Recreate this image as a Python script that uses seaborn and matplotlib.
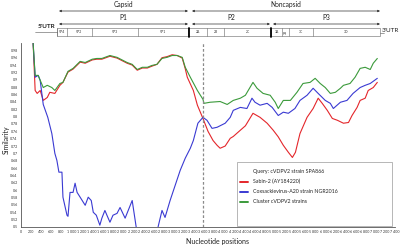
import numpy as np
import pandas as pd
import matplotlib
matplotlib.use("Agg")
import matplotlib.pyplot as plt
import seaborn as sns
from matplotlib.patches import Rectangle
from matplotlib.lines import Line2D
from matplotlib.ticker import FuncFormatter

sns.set_style("white")
plt.rcParams['font.family'] = ['Lato', 'DejaVu Sans']

# @@ similarity values (nucleotide position, similarity)
sabin_pos = [240, 280, 320, 380, 440, 520, 570, 670, 770, 830,
             930, 1030, 1170, 1270, 1410, 1500, 1600, 1760, 1900, 2100,
             2200, 2300, 2400, 2500, 2590, 2690, 2790, 2890, 2990, 3090,
             3190, 3250, 3290, 3410, 3490, 3600, 3700, 3800, 3880, 3940,
             4040, 4140, 4200, 4340, 4440, 4590, 4730, 4870, 4990, 5090,
             5190, 5290, 5370, 5430, 5520, 5660, 5780, 5880, 5960, 6060,
             6160, 6260, 6380, 6480, 6550, 6650, 6710, 6810, 6870, 6970,
             7050]
sabin_sim = [0.999, 0.871, 0.863, 0.871, 0.844, 0.852, 0.866, 0.863, 0.885, 0.893,
             0.921, 0.929, 0.948, 0.945, 0.954, 0.956, 0.956, 0.964, 0.959, 0.945,
             0.940, 0.926, 0.932, 0.932, 0.937, 0.942, 0.960, 0.963, 0.968, 0.966,
             0.959, 0.930, 0.907, 0.871, 0.831, 0.795, 0.760, 0.735, 0.722, 0.714,
             0.720, 0.741, 0.746, 0.763, 0.775, 0.809, 0.798, 0.782, 0.763, 0.745,
             0.722, 0.703, 0.689, 0.703, 0.754, 0.798, 0.822, 0.850, 0.836, 0.817,
             0.795, 0.790, 0.782, 0.784, 0.803, 0.825, 0.844, 0.850, 0.871, 0.879,
             0.893]

cox_pos = [240, 280, 340, 380, 440, 530, 610, 670, 710, 750,
           810, 830, 910, 930, 970, 1030, 1070, 1110, 1170, 1270,
           1330, 1390, 1430, 1490, 1560, 1600, 1660, 1700, 1760, 1820,
           1900, 1960, 2060, 2200, 2280, 2400, 2550, 2710, 2790, 2850,
           2950, 3050, 3150, 3250, 3350, 3410, 3500, 3600, 3680, 3780,
           3880, 4040, 4140, 4200, 4340, 4470, 4570, 4630, 4730, 4870,
           4970, 5090, 5190, 5290, 5420, 5520, 5660, 5780, 5880, 6020,
           6120, 6180, 6320, 6450, 6570, 6710, 6810, 6910, 7050]
cox_sim = [0.999, 0.907, 0.912, 0.898, 0.833, 0.798, 0.754, 0.700, 0.681, 0.649,
           0.649, 0.581, 0.532, 0.529, 0.594, 0.594, 0.619, 0.594, 0.581, 0.559,
           0.581, 0.572, 0.540, 0.532, 0.505, 0.524, 0.545, 0.532, 0.513, 0.532,
           0.537, 0.553, 0.524, 0.572, 0.499, 0.480, 0.470, 0.499, 0.545, 0.526,
           0.572, 0.613, 0.654, 0.687, 0.714, 0.735, 0.782, 0.798, 0.790, 0.768,
           0.771, 0.782, 0.798, 0.817, 0.825, 0.822, 0.850, 0.839, 0.831, 0.836,
           0.825, 0.803, 0.812, 0.809, 0.822, 0.844, 0.858, 0.877, 0.863, 0.844,
           0.836, 0.822, 0.839, 0.844, 0.863, 0.879, 0.885, 0.890, 0.904]

cluster_pos = [240, 280, 340, 440, 520, 610, 670, 770, 830, 930,
               1030, 1170, 1270, 1410, 1500, 1600, 1760, 1900, 2100, 2200,
               2300, 2400, 2500, 2590, 2690, 2790, 2890, 2990, 3090, 3190,
               3250, 3350, 3490, 3600, 3620, 3740, 3940, 4080, 4200, 4340,
               4440, 4530, 4590, 4670, 4790, 4930, 5030, 5090, 5190, 5330,
               5460, 5580, 5720, 5820, 5920, 6020, 6120, 6220, 6320, 6380,
               6510, 6610, 6710, 6810, 6910, 6970, 7050]
cluster_sim = [0.999, 0.912, 0.912, 0.879, 0.885, 0.879, 0.871, 0.890, 0.893, 0.923,
               0.931, 0.950, 0.947, 0.956, 0.958, 0.958, 0.966, 0.961, 0.947, 0.942,
               0.928, 0.934, 0.934, 0.939, 0.942, 0.958, 0.961, 0.966, 0.966, 0.961,
               0.934, 0.907, 0.871, 0.847, 0.836, 0.839, 0.841, 0.833, 0.844, 0.850,
               0.858, 0.879, 0.893, 0.877, 0.863, 0.858, 0.839, 0.822, 0.844, 0.844,
               0.866, 0.890, 0.893, 0.904, 0.890, 0.879, 0.863, 0.866, 0.877, 0.885,
               0.890, 0.907, 0.931, 0.934, 0.928, 0.945, 0.958]

series_names = ["Sabin-2 (AY184220)", "Coxsackievirus-A20 strain NGR2016", "Cluster cVDPV2 strains"]
series_colors = ["#e4262b", "#3a3ad2", "#3b9a3b"]
query_label = "Query: cVDPV2 strain SPA866"
breakpoint_nt = 3600
# @@

frames = []
for name, pos, sim in zip(series_names, [sabin_pos, cox_pos, cluster_pos],
                          [sabin_sim, cox_sim, cluster_sim]):
    frames.append(pd.DataFrame({"position": pos, "similarity": sim, "strain": name}))
df = pd.concat(frames, ignore_index=True)

W, H = 400, 248
fig = plt.figure(figsize=(W / 100, H / 100), dpi=100)
fig.patch.set_facecolor("white")

# main plot
ax = fig.add_axes([21 / W, 1 - 227 / H, 374 / W, 184 / H])
sns.lineplot(data=df, x="position", y="similarity", hue="strain", hue_order=series_names,
             palette=series_colors, estimator=None, linewidth=0.8, legend=False, ax=ax)
ax.axvline(breakpoint_nt, color="#8a8a8a", ls=(0, (2.2, 1.6)), lw=0.9)

ax.set_xlim(0, 7400)
ax.set_ylim(0.5, 1.0)
ax.set_xticks(np.arange(0, 7401, 200))
ax.set_yticks(np.arange(0.5, 0.981, 0.02))
ax.xaxis.set_major_formatter(FuncFormatter(lambda v, p: f"{int(round(v)):,}".replace(",", " ")))
ax.yaxis.set_major_formatter(FuncFormatter(lambda v, p: f"{v:.2f}".rstrip("0").rstrip(".")))
ax.tick_params(axis="both", labelsize=2.6, length=1.2, width=0.4, pad=1.2, color="#555555",
               labelcolor="#333333")
for s in ["top", "right"]:
    ax.spines[s].set_visible(False)
for s in ["left", "bottom"]:
    ax.spines[s].set_color("#555555")
    ax.spines[s].set_linewidth(0.6)

ax.set_xlabel("Nucleotide positions", fontsize=5, color="#222222")
ax.set_ylabel("Similarity", fontsize=5, color="#222222")
ax.xaxis.set_label_coords((217 - 21) / 374, -0.058)
ax.yaxis.set_label_coords(-0.03, (227 - 140) / 184)

# legend
handles = [Line2D([], [], color="none")] + [Line2D([], [], color=c, lw=1.4) for c in series_colors]
labels = [query_label] + series_names
leg = ax.legend(handles, labels, loc="upper left", bbox_to_anchor=((240 - 21) / 374, (227 - 169) / 184),
                fontsize=3.8, frameon=False, handlelength=1.6, handletextpad=0.8,
                labelspacing=0.95, borderpad=0, borderaxespad=0)
ax.add_patch(Rectangle(((237 - 21) / 374, 0.005), (392 - 237) / 374, (226 - 162) / 184,
                       transform=ax.transAxes, fill=False, ec="#9a9a9a", lw=0.5, clip_on=False))

# genome map header
hdr = fig.add_axes([0, 1 - 48 / H, 1, 48 / H])
hdr.set_xlim(0, W)
hdr.set_ylim(48, 0)
hdr.axis("off")

arrow = dict(arrowstyle="<|-|>", lw=0.5, color="#333333", mutation_scale=3, shrinkA=0, shrinkB=0)
for txt, x0, x1, ty, ay in [("Capsid", 59, 188, 4, 11), ("Noncapsid", 192, 380, 4, 11),
                            ("P1", 59, 188, 18, 24), ("P2", 192, 270, 18, 24), ("P3", 273, 380, 18, 24)]:
    hdr.annotate("", xy=(x1, ay), xytext=(x0, ay), arrowprops=arrow)
    hdr.text((x0 + x1) / 2, ty, txt, fontsize=4.8, ha="center", va="center", color="#222222")

hdr.add_patch(Rectangle((57, 28), 323, 8, fill=False, ec="#666666", lw=0.4))
segments = [("VP4", 57, 67), ("VP2", 67, 92), ("VP3", 92, 138), ("VP1", 138, 188),
            ("2A", 188, 207), ("2B", 207, 224), ("2C", 224, 271), ("3A", 271, 282),
            ("3B", 282, 289), ("3C", 289, 313), ("3D", 313, 380)]
for name, a, b in segments:
    hdr.plot([a, a], [28, 36], color="#666666", lw=0.4)
    rot = 90 if name == "3B" else 0
    hdr.text((a + b) / 2, 32.2, name, fontsize=2.4, ha="center", va="center", rotation=rot,
             color="#333333")
for xb in [188.5, 270.5]:
    hdr.plot([xb, xb], [27.5, 36.5], color="black", lw=1.3)

hdr.plot([35, 57], [31.5, 31.5], color="#555555", lw=0.4)
hdr.text(46, 28.6, "5'UTR", fontsize=4.6, ha="center", va="bottom", color="#222222", fontweight="bold")
hdr.plot([380, 384], [33, 33], color="#555555", lw=0.4)
hdr.text(382, 32.5, "3'UTR", fontsize=4.6, ha="left", va="bottom", color="#222222")

fig.savefig("out.png", dpi=100)
